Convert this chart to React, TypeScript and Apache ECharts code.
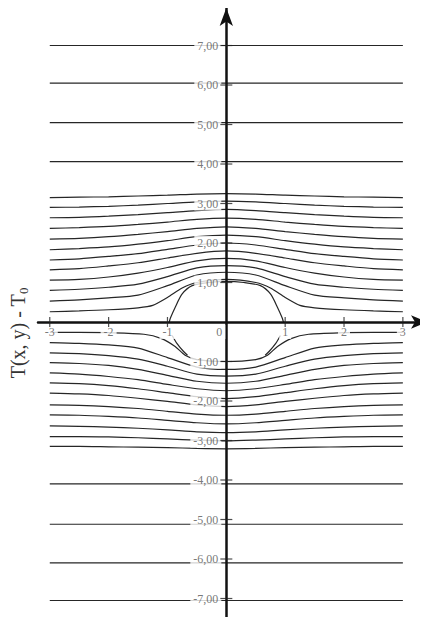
import React, { useEffect, useRef } from "react";
import * as echarts from "echarts";

// sample x positions (right half; the left half mirrors them)
const xs = [0, 0.5, 1, 1.5, 2, 2.5, 3];

// streamlines above the cylinder: y at xs
const topLines = [
  [1.26, 1.19, 0.92, 0.68, 0.61, 0.56, 0.53],
  [1.43, 1.37, 1.15, 0.96, 0.88, 0.83, 0.8],
  [1.61, 1.55, 1.38, 1.24, 1.14, 1.08, 1.06],
  [1.8, 1.74, 1.62, 1.5, 1.42, 1.35, 1.32],
  [2.0, 1.95, 1.84, 1.73, 1.66, 1.6, 1.57],
  [2.2, 2.16, 2.06, 1.97, 1.9, 1.86, 1.83],
  [2.41, 2.37, 2.29, 2.22, 2.16, 2.12, 2.1],
  [2.63, 2.6, 2.53, 2.47, 2.42, 2.39, 2.37],
  [2.85, 2.82, 2.77, 2.72, 2.68, 2.65, 2.64],
  [3.06, 3.04, 3.0, 2.96, 2.93, 2.91, 2.9],
  [3.25, 3.24, 3.21, 3.19, 3.17, 3.16, 3.15],
];

// streamlines below the cylinder: y at xs
const bottomLines = [
  [-1.2, -1.14, -0.9, -0.66, -0.58, -0.54, -0.52],
  [-1.37, -1.32, -1.12, -0.94, -0.85, -0.8, -0.78],
  [-1.55, -1.5, -1.35, -1.2, -1.1, -1.05, -1.03],
  [-1.74, -1.69, -1.58, -1.46, -1.38, -1.32, -1.29],
  [-1.94, -1.89, -1.79, -1.69, -1.61, -1.56, -1.54],
  [-2.14, -2.1, -2.01, -1.93, -1.86, -1.82, -1.8],
  [-2.36, -2.33, -2.26, -2.19, -2.14, -2.11, -2.1],
  [-2.58, -2.55, -2.49, -2.43, -2.39, -2.36, -2.35],
  [-2.8, -2.78, -2.73, -2.69, -2.66, -2.64, -2.63],
  [-3.01, -2.99, -2.96, -2.93, -2.91, -2.9, -2.9],
  [-3.21, -3.2, -3.18, -3.17, -3.16, -3.15, -3.15],
];

// innermost streamlines hugging the cylinder
const topInnerX = [0, 0.5, 0.75, 1.0, 1.25, 1.5, 2, 2.5, 3];
const topInnerY = [1.08, 1.0, 0.86, 0.62, 0.42, 0.36, 0.31, 0.28, 0.26];
const bottomInnerX = [0, 0.5, 0.7, 0.87, 1.1, 1.4, 2, 2.5, 3];
const bottomInnerY = [-1.0, -0.95, -0.84, -0.62, -0.42, -0.31, -0.27, -0.26, -0.26];

// cylinder outline (upper arc) and the short lower arcs
const circleX = [0, 0.3, 0.58, 0.75, 0.87, 0.95, 0.97];
const circleY = [1.03, 1.0, 0.92, 0.71, 0.37, 0.1, 0];
const lowerArcX = [0.92, 0.84, 0.73, 0.66];
const lowerArcY = [-0.34, -0.54, -0.74, -0.84];

// straight far-field lines
const flatLevels = [7.0, 6.05, 5.05, 4.06, -4.1, -5.12, -6.1, -7.05];
const flatX = [-3, 3];

// tick labels
const xTicks = [-3, -2, -1, 0, 1, 2, 3];
const xTickMarks = [-3, -2, -1, 1, 2, 3];
const yTicks = [-7, -6, -5, -4, -3, -2, -1, 1, 2, 3, 4, 5, 6, 7];
const yTitle = "{a|T(x, y) - T}{b|0}";

function mirror(xArr: number[], yArr: number[]): number[][] {
  const pts: number[][] = [];
  for (let i = xArr.length - 1; i > 0; i--) pts.push([-xArr[i], yArr[i]]);
  for (let i = 0; i < xArr.length; i++) pts.push([xArr[i], yArr[i]]);
  return pts;
}

const lineStyle = { color: "#262626", width: 1.2 };

function lineSeries(data: number[][], smooth: number | boolean = 0.25) {
  return {
    type: "line",
    data,
    showSymbol: false,
    symbol: "none",
    smooth,
    silent: true,
    z: 2,
    lineStyle,
  };
}

export default function App() {
  const ref = useRef<HTMLDivElement>(null);
  useEffect(() => {
    if (!ref.current) return;
    const chart = echarts.init(ref.current, null, { renderer: "svg" });
    const series: any[] = [];
    topLines.forEach((ys) => series.push(lineSeries(mirror(xs, ys))));
    bottomLines.forEach((ys) => series.push(lineSeries(mirror(xs, ys))));
    series.push(lineSeries(mirror(topInnerX, topInnerY)));
    series.push(lineSeries(mirror(bottomInnerX, bottomInnerY)));
    series.push(lineSeries(mirror(circleX, circleY)));
    series.push(lineSeries(lowerArcX.map((x, i) => [x, lowerArcY[i]])));
    series.push(lineSeries(lowerArcX.map((x, i) => [-x, lowerArcY[i]])));
    flatLevels.forEach((lv) =>
      series.push(lineSeries(flatX.map((x) => [x, lv]), false))
    );

    const tokenStyle = {
      fontFamily: "Liberation Serif",
      fontSize: 12,
      color: "#555",
      backgroundColor: "#ffffff",
      padding: [1, 3],
    };

    // x tick labels, hung under the x axis (which sits on y = 0)
    series.push({
      type: "scatter",
      data: xTicks.map((x) =>
        x === 0
          ? { value: [x, 0], label: { offset: [-7, 0] } }
          : { value: [x, 0] }
      ),
      symbolSize: 0,
      silent: true,
      z: 11,
      zlevel: 1,
      label: {
        show: true,
        position: "bottom",
        distance: 3,
        formatter: (p: any) => "{t|" + String(p.value[0]) + "}",
        rich: { t: tokenStyle },
      },
    });

    // y tick labels, left of the y axis (which sits on x = 0)
    series.push({
      type: "scatter",
      data: yTicks.map((y) => [0, y]),
      symbolSize: 0,
      silent: true,
      z: 11,
      zlevel: 1,
      label: {
        show: true,
        position: "left",
        distance: 5,
        formatter: (p: any) =>
          "{t|" + p.value[1].toFixed(2).replace(".", ",") + "}",
        rich: { t: tokenStyle },
      },
    });

    // tick marks crossing the axes
    series.push({
      type: "scatter",
      data: yTicks.map((y) => [0, y]),
      symbol: "rect",
      symbolSize: [12, 1.2],
      itemStyle: { color: "#222" },
      silent: true,
      z: 12,
      zlevel: 1,
    });
    series.push({
      type: "scatter",
      data: xTickMarks.map((x) => [x, 0]),
      symbol: "rect",
      symbolSize: [1.2, 10],
      itemStyle: { color: "#222" },
      silent: true,
      z: 12,
      zlevel: 1,
    });

    chart.setOption({
      animation: false,
      backgroundColor: "#fff",
      grid: {
        left: 38,
        right: 1,
        top: 8,
        bottom: 2.8,
        containLabel: false,
        outerBoundsMode: "none",
      },
      graphic: [
        {
          type: "text",
          x: 18,
          y: 333,
          rotation: Math.PI / 2,
          style: {
            text: yTitle,
            align: "center",
            verticalAlign: "middle",
            rich: {
              a: { fontFamily: "Liberation Serif", fontSize: 20, fill: "#333" },
              b: {
                fontFamily: "Liberation Serif",
                fontSize: 13,
                fill: "#333",
                padding: [10, 0, 0, 0],
              },
            },
          },
        },
      ],
      xAxis: {
        type: "value",
        min: -3.2,
        max: 3.41,
        z: 10,
        splitLine: { show: false },
        axisLine: {
          onZero: true,
          lineStyle: { color: "#111", width: 2.5 },
          symbol: ["none", "arrow"],
          symbolSize: [10, 16],
        },
        axisTick: { show: false },
        axisLabel: { show: false },
      },
      yAxis: {
        type: "value",
        min: -7.6,
        max: 7.95,
        z: 10,
        splitLine: { show: false },
        axisLine: {
          onZero: true,
          lineStyle: { color: "#111", width: 2.5 },
          symbol: ["none", "arrow"],
          symbolSize: [10, 18],
        },
        axisTick: { show: false },
        axisLabel: { show: false },
      },
      series,
    });
    return () => chart.dispose();
  }, []);
  return <div ref={ref} style={{ width: 428, height: 625, margin: -8 }} />;
}
